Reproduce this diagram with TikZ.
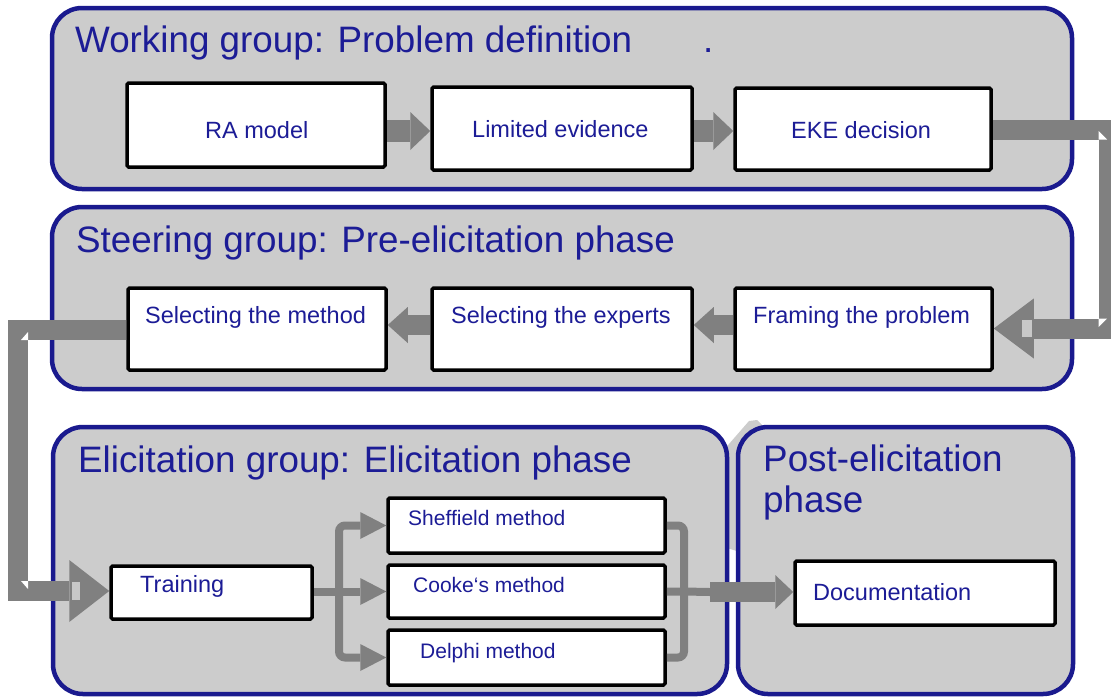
\documentclass[tikz,border=0pt]{standalone}
\usepackage{fontspec}
\setmainfont{Liberation Sans}
\usetikzlibrary{arrows.meta,calc}
\definecolor{panelgray}{HTML}{CCCCCC}
\definecolor{navyline}{HTML}{1A1A8E}
\definecolor{navytext}{HTML}{1C1C96}
\definecolor{arrowgray}{HTML}{808080}
\definecolor{patchgray}{HTML}{C8C8C8}
\begin{document}
\begin{tikzpicture}[x=1pt,y=-1pt,
  panel/.style={draw=navyline, line width=4.5pt, fill=panelgray, rounded corners=30pt, inner sep=0pt},
  box/.style={draw=black, line width=3.5pt, fill=white, rounded corners=1.5pt, inner sep=0pt},
  ttl/.style={text=navytext, font=\fontsize{36.8}{42}\selectfont, inner sep=0pt, anchor=base west},
  lbl/.style={text=navytext, font=\fontsize{23.5}{28}\selectfont, inner sep=0pt, anchor=base west},
  slbl/.style={text=navytext, font=\fontsize{21}{25}\selectfont, inner sep=0pt, anchor=base west},
  gconn/.style={draw=arrowgray, line join=miter},
  thinline/.style={draw=arrowgray, line width=8pt, rounded corners=6pt},
]
\clip (0,0) rectangle (1111,697);
\fill[white] (0,0) rectangle (1111,697);
% faint background shape between lower panels
\fill[panelgray] (722,452) -- (749,421) -- (757,420) -- (766,429) -- (766,560) -- (727,548) -- cycle;

% panels
\node[panel, minimum width=1020pt, minimum height=181pt] (p1) at (562,98.5) {};
\node[panel, minimum width=1020pt, minimum height=182pt] (p2) at (562,298) {};
\node[panel, minimum width=674pt, minimum height=267pt] (p3) at (390,560.5) {};
\node[panel, minimum width=335pt, minimum height=267pt] (p4) at (905.5,560.5) {};

% titles
\node[ttl] (t1) at (75,52) {Working group: Problem definition};
\node[ttl] (t1dot) at (703,52) {.};
\node[ttl] (t2) at (76,252) {Steering group: Pre-elicitation phase};
\node[ttl] (t3) at (78,472) {Elicitation group: Elicitation phase};
\node[ttl] (t4a) at (763,471) {Post-elicitation};
\node[ttl] (t4b) at (763,512) {phase};

% boxes
\node[box, minimum width=258pt, minimum height=84pt] (ra) at (256,125) {};
\node[box, minimum width=260pt, minimum height=83pt] (le) at (562,128.5) {};
\node[box, minimum width=256pt, minimum height=82pt] (eke) at (863,129) {};
\node[box, minimum width=258pt, minimum height=82pt] (sm) at (257,329) {};
\node[box, minimum width=260pt, minimum height=82pt] (se) at (562,329) {};
\node[box, minimum width=257pt, minimum height=82pt] (fp) at (863.5,329) {};
\node[box, minimum width=201pt, minimum height=53pt] (tr) at (211.5,592.5) {};
\node[box, minimum width=277pt, minimum height=55pt] (sh) at (526.5,525.5) {};
\node[box, minimum width=277pt, minimum height=53pt] (co) at (526.5,591.5) {};
\node[box, minimum width=277pt, minimum height=55pt] (de) at (526.5,657.5) {};
\node[box, minimum width=260pt, minimum height=64pt] (doc) at (925,593) {};

% box texts
\node[lbl] (rat) at (205,138) {RA model};
\node[lbl] (let) at (472,137) {Limited evidence};
\node[lbl] (eket) at (791,138) {EKE decision};
\node[lbl] (smt) at (145,323) {Selecting the method};
\node[lbl] (set) at (451,323) {Selecting the experts};
\node[lbl] (fpt) at (753,323) {Framing the problem};
\node[lbl] (trt) at (140,592) {Training};
\node[slbl] (sht) at (408,525) {Sheffield method};
\node[slbl] (cot) at (413,592) {Cooke‘s method};
\node[slbl] (det) at (420,658) {Delphi method};
\node[lbl] (doct) at (813,600) {Documentation};

% row 1 arrows
\draw[gconn, line width=22pt, -{Triangle[width=38pt,length=20pt,line width=0pt]}]
  ($(ra.east)+(0,6)$) -- ($(le.west |- ra.east)+(0,6)$);
\draw[gconn, line width=22pt, -{Triangle[width=38pt,length=20pt,line width=0pt]}]
  ($(le.east)+(0,2.5)$) -- ($(eke.west |- le.east)+(0,2.5)$);
% row 2 arrows (leftwards)
\draw[gconn, line width=20pt, -{Triangle[width=36pt,length=20pt,line width=0pt]}]
  ($(se.west)+(0,-4)$) -- ($(sm.east |- se.west)+(0,-4)$);
\draw[gconn, line width=20pt, -{Triangle[width=36pt,length=20pt,line width=0pt]}]
  ($(fp.west)+(0,-4)$) -- ($(se.east |- fp.west)+(0,-4)$);

% right elbow connector
\coordinate (rc1) at (1108.5,129.5);
\coordinate (rc2) at (1108.5,328.5);
\draw[gconn, line width=20pt, -{Triangle[width=60pt,length=40pt,line width=0pt]}]
  (eke.east |- rc1) -- (rc1) -- (rc2) -- (fp.east |- rc2);
\fill[patchgray] (1022,320) rectangle (1032,337);
\fill[white] (1098.5,131) -- (1098.5,139.5) -- (1107,139.5) -- cycle;
\fill[white] (1098.5,318.5) -- (1107,318.5) -- (1098.5,327) -- cycle;

% left elbow connector
\coordinate (lc1) at (18,330);
\coordinate (lc2) at (18,591);
\draw[gconn, line width=20pt, -{Triangle[width=62pt,length=40pt,line width=0pt]}]
  (sm.west |- lc1) -- (lc1) -- (lc2) -- (tr.west |- lc2);
\fill[patchgray] (72,582) rectangle (80,600);
\fill[white] (28,332) -- (28,340) -- (21,340) -- cycle;
\fill[white] (28,581) -- (21,581) -- (28,589) -- cycle;

% split to methods
\coordinate (splitx) at (339,592);
\draw[thinline] (tr.east |- splitx) -- (splitx);
\draw[thinline, {Triangle[width=27pt,length=26pt,line width=0pt]}-{Triangle[width=27pt,length=26pt,line width=0pt]}]
  (sh.west) -- (sh.west -| splitx) -- (de.west -| splitx) -- (de.west);
\draw[thinline, -{Triangle[width=27pt,length=26pt,line width=0pt]}] (co.west -| splitx) -- (co.west);

% merge to documentation
\coordinate (mergex) at (684,592);
\coordinate (thick) at (710,592);
\draw[thinline] (sh.east) -- (sh.east -| mergex) -- (de.east -| mergex) -- (de.east);
\draw[thinline] (co.east) -- (co.east -| mergex) -- (thick);
\draw[gconn, line width=20pt, -{Triangle[width=34pt,length=18pt,line width=0pt]}]
  (thick) -- (doc.west |- thick);
\end{tikzpicture}
\end{document}
